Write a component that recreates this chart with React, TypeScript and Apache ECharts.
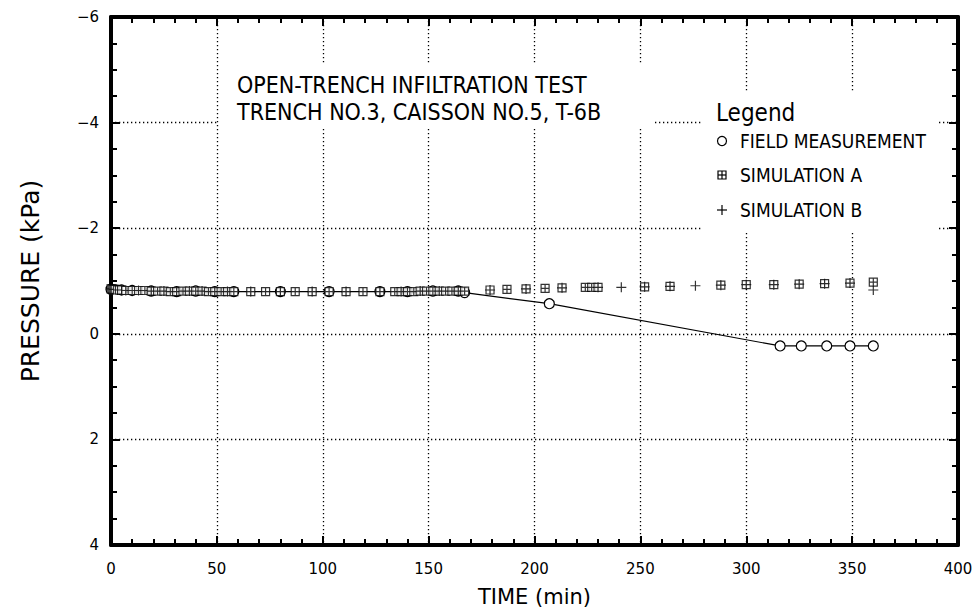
import React, { useEffect, useRef } from 'react';
import * as echarts from 'echarts';

// Field measurement (circles, joined by a line)
const fieldTime = [0, 5, 10, 19, 31, 40, 49, 58, 80, 103, 127, 140, 152, 164, 167, 207, 316, 326, 338, 349, 360];
const fieldPressure = [-0.84, -0.83, -0.82, -0.81, -0.8, -0.81, -0.8, -0.8, -0.8, -0.8, -0.8, -0.8, -0.81, -0.81, -0.78, -0.57, 0.23, 0.23, 0.23, 0.23, 0.23];

// Simulation A (boxed plus)
const simATime = [0, 0.5, 1, 1.5, 2, 3, 4, 5, 7, 10, 13, 16, 19, 22, 25, 28, 31, 34, 37, 40, 43, 46, 49, 52, 55, 58,
  66, 73, 80, 87, 95, 103, 111, 119, 127,
  134, 137, 140, 143, 146, 149, 152, 155, 158, 161, 164, 167,
  179, 187, 196, 205, 213, 224, 227, 230, 252, 264, 288, 300, 313, 325, 337, 349, 360];
const simAPressure = [-0.85, -0.85, -0.84, -0.84, -0.84, -0.83, -0.83, -0.83, -0.82, -0.82,
  -0.82, -0.82, -0.81, -0.81, -0.81, -0.8, -0.8, -0.81, -0.81, -0.81, -0.81, -0.8, -0.8, -0.8, -0.8, -0.8,
  -0.8, -0.8, -0.8, -0.8, -0.8, -0.8, -0.8, -0.8, -0.8,
  -0.8, -0.8, -0.8, -0.8, -0.81, -0.81, -0.81, -0.81, -0.81, -0.81, -0.81, -0.81,
  -0.83, -0.84, -0.85, -0.86, -0.87, -0.88, -0.88, -0.88, -0.89, -0.9, -0.92, -0.93, -0.93, -0.94, -0.95, -0.96, -0.98];

// Simulation B (plus)
const simBTime = [0, 3, 7, 13, 19, 25, 31, 37, 43, 49, 55, 66, 80, 95, 111, 127, 137, 146, 155, 164,
  179, 196, 213, 230, 241, 252, 264, 276, 288, 300, 313, 325, 337, 349, 360];
const simBPressure = [-0.85, -0.83, -0.82, -0.82, -0.81, -0.81, -0.8, -0.81, -0.81, -0.8, -0.8, -0.8, -0.8, -0.8, -0.8, -0.8, -0.8, -0.81, -0.81, -0.81,
  -0.83, -0.85, -0.87, -0.88, -0.88, -0.89, -0.9, -0.91, -0.92, -0.93, -0.93, -0.94, -0.95, -0.96, -0.83];

const xTickStep = 50;
const yTickStep = 2;
const titleLines = ['OPEN-TRENCH INFILTRATION TEST', 'TRENCH NO.3, CAISSON NO.5, T-6B'];
const legendNames = ['FIELD MEASUREMENT', 'SIMULATION A', 'SIMULATION B'];

const boxPlus = 'path://M0,0L10,0L10,10L0,10Z M5,0L5,10 M0,5L10,5';
const plusSym = 'path://M5,0L5,10 M0,5L10,5';

const AX_FONT = '"DejaVu Sans", sans-serif';
const TXT_FONT = '"Liberation Sans Narrow", "DejaVu Sans Condensed", "Liberation Sans", sans-serif';

function mkAxisLine() {
  return { show: true, onZero: false, lineStyle: { color: '#000', width: 4 } };
}
function mkTick() {
  return { show: true, inside: true, length: 9, lineStyle: { color: '#000', width: 2 } };
}
function mkMinor(n: number) {
  return { show: true, splitNumber: n, length: 6, lineStyle: { color: '#000', width: 2 } };
}
function mkGrid() {
  return { show: true, lineStyle: { color: '#000', width: 1.3, type: [1.3, 2.7] } };
}

export default function App() {
  const ref = useRef<HTMLDivElement>(null);
  useEffect(() => {
    const chart = echarts.init(ref.current!, null, { renderer: 'svg' });
    const fmtY = (v: number) => (v < 0 ? '\u2212' + -v : String(v));

    const option: any = {
      animation: false,
      backgroundColor: '#fff',
      grid: { left: 111, right: 20, top: 17, bottom: 67, containLabel: false },
      xAxis: [
        {
          type: 'value', min: 0, max: 400, interval: xTickStep, position: 'bottom',
          axisLine: mkAxisLine(), axisTick: mkTick(), minorTick: mkMinor(5),
          splitLine: mkGrid(),
          axisLabel: { show: true, color: '#000', fontSize: 15, fontFamily: AX_FONT, margin: 16 },
          name: 'TIME (min)', nameLocation: 'middle', nameGap: 41,
          nameTextStyle: { color: '#000', fontSize: 21, fontFamily: AX_FONT },
        },
        {
          type: 'value', min: 0, max: 400, interval: xTickStep, position: 'top',
          axisLine: mkAxisLine(), axisTick: mkTick(), minorTick: mkMinor(5),
          splitLine: { show: false }, axisLabel: { show: false },
        },
      ],
      yAxis: [
        {
          type: 'value', min: -6, max: 4, interval: yTickStep, inverse: true, position: 'left',
          axisLine: mkAxisLine(), axisTick: mkTick(), minorTick: mkMinor(4),
          splitLine: mkGrid(),
          axisLabel: { show: true, color: '#000', fontSize: 15, fontFamily: AX_FONT, margin: 12, formatter: fmtY },
          name: 'PRESSURE (kPa)', nameLocation: 'middle', nameGap: 68, nameRotate: 90,
          nameTextStyle: { color: '#000', fontSize: 25, fontFamily: AX_FONT },
        },
        {
          type: 'value', min: -6, max: 4, interval: yTickStep, inverse: true, position: 'right',
          axisLine: mkAxisLine(), axisTick: mkTick(), minorTick: mkMinor(4),
          splitLine: { show: false }, axisLabel: { show: false },
        },
      ],
      graphic: [
        { type: 'rect', z: 1, shape: { x: 219, y: 65, width: 436, height: 63 }, style: { fill: '#fff' } },
        { type: 'text', z: 2, x: 237, y: 85, style: { text: titleLines[0], fill: '#000', font: `23px ${TXT_FONT}`, textVerticalAlign: 'middle' } },
        { type: 'text', z: 2, x: 237, y: 112, style: { text: titleLines[1], fill: '#000', font: `23px ${TXT_FONT}`, textVerticalAlign: 'middle' } },
        { type: 'rect', z: 1, shape: { x: 703, y: 92, width: 234, height: 140 }, style: { fill: '#fff' } },
        { type: 'text', z: 2, x: 716, y: 113, style: { text: 'Legend', fill: '#000', font: `24px ${TXT_FONT}`, textVerticalAlign: 'middle' } },
        { type: 'circle', z: 2, shape: { cx: 722, cy: 141, r: 4.5 }, style: { fill: '#fff', stroke: '#000', lineWidth: 1.2 } },
        { type: 'text', z: 2, x: 740, y: 141, style: { text: legendNames[0], fill: '#000', font: `19px ${TXT_FONT}`, textVerticalAlign: 'middle' } },
        { type: 'rect', z: 2, shape: { x: 718, y: 171, width: 8, height: 8 }, style: { fill: '#fff', stroke: '#000', lineWidth: 1.2 } },
        { type: 'line', z: 2, shape: { x1: 722, y1: 171, x2: 722, y2: 179 }, style: { stroke: '#000', lineWidth: 1.2 } },
        { type: 'line', z: 2, shape: { x1: 718, y1: 175, x2: 726, y2: 175 }, style: { stroke: '#000', lineWidth: 1.2 } },
        { type: 'text', z: 2, x: 740, y: 175, style: { text: legendNames[1], fill: '#000', font: `19px ${TXT_FONT}`, textVerticalAlign: 'middle' } },
        { type: 'line', z: 2, shape: { x1: 722, y1: 205, x2: 722, y2: 215 }, style: { stroke: '#000', lineWidth: 1.2 } },
        { type: 'line', z: 2, shape: { x1: 717, y1: 210, x2: 727, y2: 210 }, style: { stroke: '#000', lineWidth: 1.2 } },
        { type: 'text', z: 2, x: 740, y: 210, style: { text: legendNames[2], fill: '#000', font: `19px ${TXT_FONT}`, textVerticalAlign: 'middle' } },
      ],
      series: [
        {
          name: legendNames[0], type: 'line', z: 3,
          data: fieldTime.map((t, i) => [t, fieldPressure[i]]),
          symbol: 'circle', symbolSize: 10,
          itemStyle: { color: '#fff', borderColor: '#000', borderWidth: 1.2 },
          lineStyle: { color: '#000', width: 1.2 },
        },
        {
          name: legendNames[2], type: 'scatter', z: 4,
          data: simBTime.map((t, i) => [t, simBPressure[i]]),
          symbol: plusSym, symbolSize: 10,
          itemStyle: { color: 'none', borderColor: '#000', borderWidth: 1.2 },
        },
        {
          name: legendNames[1], type: 'scatter', z: 5,
          data: simATime.map((t, i) => [t, simAPressure[i]]),
          symbol: boxPlus, symbolSize: 8,
          itemStyle: { color: '#fff', borderColor: '#000', borderWidth: 1.2 },
        },
      ],
    };
    chart.setOption(option);
    return () => chart.dispose();
  }, []);
  return <div ref={ref} style={{ position: 'fixed', left: 0, top: 0, width: 978, height: 612, background: '#fff' }} />;
}
